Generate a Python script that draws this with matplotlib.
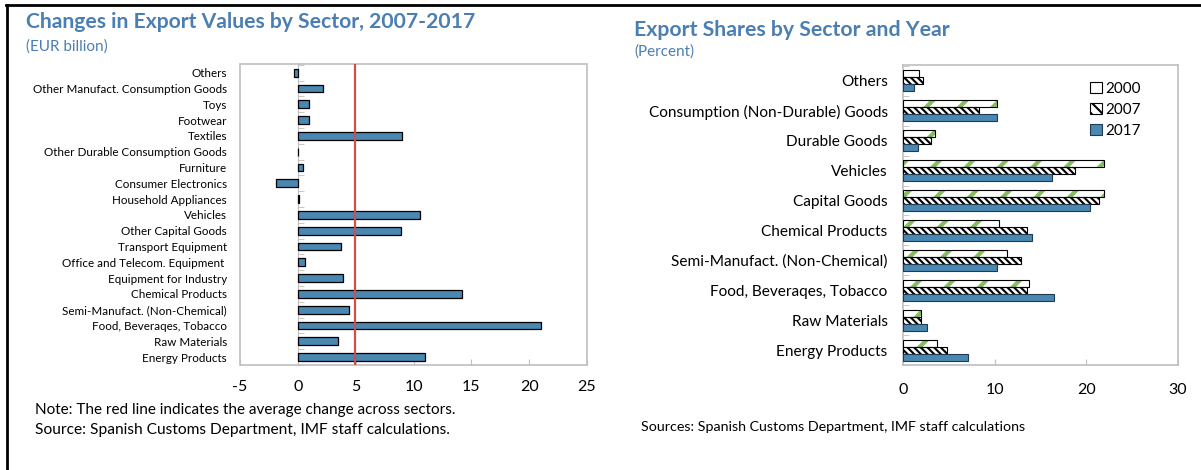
import matplotlib
matplotlib.use("Agg")
import matplotlib.pyplot as plt
import numpy as np
from matplotlib.patches import Patch
from matplotlib.lines import Line2D

plt.rcParams["font.family"] = ["Lato", "DejaVu Sans"]
plt.rcParams["axes.unicode_minus"] = False
plt.rcParams["hatch.linewidth"] = 1.5

# left panel: change in export values 2007-2017 (EUR billion)
sectors = [
    "Others", "Other Manufact. Consumption Goods", "Toys", "Footwear", "Textiles",
    "Other Durable Consumption Goods", "Furniture", "Consumer Electronics",
    "Household Appliances", "Vehicles", "Other Capital Goods", "Transport Equipment",
    "Office and Telecom. Equipment ", "Equipment for Industry", "Chemical Products",
    "Semi-Manufact. (Non-Chemical)", "Food, Beveraqes, Tobacco", "Raw Materials",
    "Energy Products",
]
changes = [-0.37, 2.15, 0.94, 0.94, 9.0, 0.05, 0.47, -1.85, 0.13, 10.6, 8.9, 3.7,
           0.6, 3.9, 14.2, 4.4, 21.0, 3.5, 11.0]
left_ticks = [-5, 0, 5, 10, 15, 20, 25]

# right panel: export shares (percent)
groups = [
    "Others", "Consumption (Non-Durable) Goods", "Durable Goods", "Vehicles",
    "Capital Goods", "Chemical Products", "Semi-Manufact. (Non-Chemical)",
    "Food, Beveraqes, Tobacco", "Raw Materials", "Energy Products",
]
share_2000 = [1.7, 10.3, 3.5, 21.9, 21.9, 10.5, 11.3, 13.7, 2.0, 3.7]
share_2007 = [2.15, 8.3, 3.1, 18.8, 21.4, 13.5, 12.9, 13.5, 2.0, 4.8]
share_2017 = [1.25, 10.2, 1.6, 16.3, 20.4, 14.1, 10.2, 16.5, 2.6, 7.1]
right_ticks = [0, 10, 20, 30]

BLUE = "#4a88b1"
TITLE = "#4b7fb2"
GREY = "#bfbfbf"
GREEN = "#86bd5e"
RED = "#c9504f"

fig = plt.figure(figsize=(12.01, 4.70), dpi=100)
W, H = 1201, 470


def fx(px):
    return px / W


def fy(py):
    return 1 - py / H


# ---- left chart ----
ax1 = fig.add_axes([fx(240), fy(365), fx(587) - fx(240), fy(64) - fy(365)])
y1 = np.arange(len(sectors))
ax1.barh(y1, changes, height=0.5, color=BLUE, edgecolor="black", linewidth=0.9, zorder=3)
ax1.axvline(np.mean(changes), color=RED, linewidth=1.6, zorder=4)
ax1.set_xlim(-5, 25)
ax1.set_ylim(len(sectors) - 0.62, -0.55)
ax1.set_xticks(left_ticks)
ax1.set_yticks(y1)
ax1.set_yticklabels(sectors)
ax1.set_yticks(np.arange(len(sectors) + 1) - 0.5, minor=True)
for s in ["top", "right", "bottom"]:
    ax1.spines[s].set_visible(False)
ax1.spines["left"].set_position(("data", 0))
ax1.spines["left"].set_color(GREY)
ax1.patch.set_edgecolor(GREY)
ax1.patch.set_linewidth(1.2)
ax1.tick_params(axis="y", which="major", length=0, pad=51, labelsize=8.4)
ax1.tick_params(axis="y", which="minor", length=4, direction="in", color=GREY)
ax1.tick_params(axis="x", length=4, direction="in", color=GREY, labelsize=11.5, pad=11)

fig.text(fx(26), fy(22), "Changes in Export Values by Sector, 2007-2017",
         fontsize=15.2, fontweight="bold", color=TITLE, va="center")
fig.text(fx(26), fy(47), "(EUR billion)", fontsize=11, color=TITLE, va="center")
fig.text(fx(35), fy(410), "Note: The red line indicates the average change across sectors.",
         fontsize=11, va="center")
fig.text(fx(35), fy(430), "Source: Spanish Customs Department, IMF staff calculations.",
         fontsize=11.2, va="center")

# ---- right chart ----
ax2 = fig.add_axes([fx(903), fy(365), fx(1178) - fx(903), fy(65) - fy(365)])
y2 = np.arange(len(groups))
h = 0.235
with plt.rc_context({"hatch.linewidth": 3.0}):
    ax2.barh(y2 - h, share_2000, height=h, color="white", edgecolor=GREEN, hatch="/",
             linewidth=0, zorder=3)
ax2.barh(y2 - h, share_2000, height=h, fill=False, edgecolor="black", linewidth=0.8, zorder=4)
ax2.barh(y2, share_2007, height=h, color="white", edgecolor="black", hatch="\\\\\\\\\\",
         linewidth=0.8, zorder=3)
ax2.barh(y2 + h, share_2017, height=h, color=BLUE, edgecolor="#1f3b50", linewidth=0.8,
         zorder=3)
ax2.set_xlim(0, 30)
ax2.set_ylim(len(groups) - 0.57, -0.53)
ax2.set_xticks(right_ticks)
ax2.set_yticks(y2)
ax2.set_yticklabels(groups)
ax2.set_yticks(np.arange(len(groups) + 1) - 0.5, minor=True)
for s in ax2.spines.values():
    s.set_color(GREY)
    s.set_linewidth(1.2)
ax2.tick_params(axis="y", which="major", length=0, pad=11, labelsize=11.1)
ax2.tick_params(axis="y", which="minor", length=4, direction="in", color=GREY)
ax2.tick_params(axis="x", length=4, direction="in", color=GREY, labelsize=11.5, pad=13)

with plt.rc_context({"hatch.linewidth": 3.0}):
    h2000 = (Patch(facecolor="white", edgecolor=GREEN, hatch="/", linewidth=0),
             Patch(fill=False, edgecolor="black", linewidth=0.8))
h2007 = Patch(facecolor="white", edgecolor="black", hatch="\\\\\\", linewidth=0.8)
h2017 = Patch(facecolor=BLUE, edgecolor="#1f3b50", linewidth=0.8)
ax2.legend([h2000, h2007, h2017], ["2000", "2007", "2017"], loc="upper left",
           bbox_to_anchor=(fx(1082), fy(74)), bbox_transform=fig.transFigure,
           frameon=False, fontsize=11, handlelength=0.8, handleheight=0.8,
           handletextpad=0.2, labelspacing=0.45, borderpad=0)

fig.text(fx(634), fy(30), "Export Shares by Sector and Year",
         fontsize=15.3, fontweight="bold", color=TITLE, va="center")
fig.text(fx(634), fy(52), "(Percent)", fontsize=11, color=TITLE, va="center")
fig.text(fx(641), fy(427), "Sources: Spanish Customs Department, IMF staff calculations",
         fontsize=10.3, va="center")

# outer frame lines
fig.add_artist(Line2D([fx(6), 1], [fy(5), fy(5)], color="black", linewidth=2))
fig.add_artist(Line2D([fx(7), fx(7)], [fy(5), 0], color="black", linewidth=2))

fig.savefig("out.png", dpi=100)
